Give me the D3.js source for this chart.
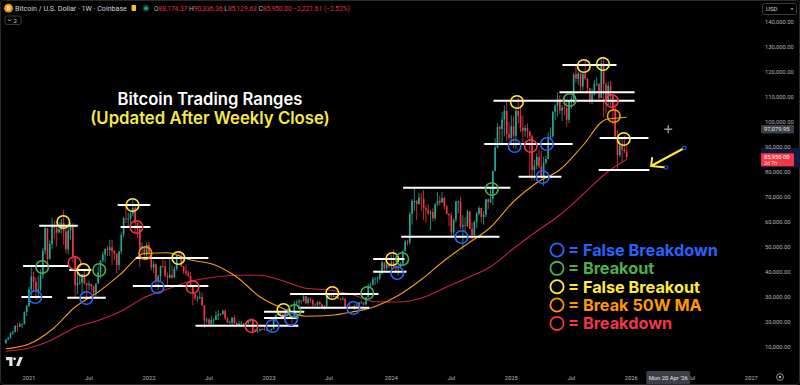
<!DOCTYPE html>
<html>
<head>
<meta charset="utf-8">
<script src="https://cdn.jsdelivr.net/npm/d3@7"></script>
<style>
html, body { margin: 0; padding: 0; background: #000; }
svg { display: block; }
</style>
</head>
<body>
<div id="chart"></div>
<script>
// weekly BTC/USD candles (thousands of USD), first candle = week of 2020-10-19
const firstWeek = "2020-10-19";
const firstOpen = 11.5;

const closes = [
  13.0,13.8,15.5,16.0,18.4,18.2,19.0,19.2,24.0,26.5,33.0,
  38.2,36.0,32.3,33.1,38.8,48.6,57.5,45.2,51.2,59.0,57.5,55.8,57.1,59.8,56.2,49.1,56.6,58.2,46.4,34.7,
  35.7,35.8,39.1,35.5,34.7,35.3,34.2,31.8,35.4,39.8,44.6,47.0,49.3,48.8,49.9,48.3,47.3,42.8,48.2,54.9,
  61.5,61.3,61.3,63.3,65.5,59.7,57.2,49.4,50.1,46.7,50.8,47.3,
  41.8,43.1,36.3,38.2,42.4,42.2,38.4,37.7,38.8,37.8,41.3,46.8,46.4,42.2,40.4,39.5,38.5,34.3,31.3,29.4,
  29.4,29.9,26.6,20.6,21.0,19.3,20.8,20.8,22.6,23.3,23.2,24.4,21.5,19.8,19.8,21.8,19.4,18.8,19.3,19.4,
  19.2,19.6,20.6,21.1,16.3,16.3,16.5,17.1,17.1,16.8,16.8,16.6,
  17.1,20.9,22.7,23.7,23.3,21.8,24.6,23.5,22.2,22.1,27.5,27.9,28.5,28.3,30.3,27.6,29.3,28.9,26.9,26.8,
  28.1,27.1,25.9,26.3,30.5,30.6,30.2,30.3,29.9,29.3,29.1,29.3,26.1,26.1,25.9,25.8,26.5,26.3,27.9,27.9,
  26.9,29.9,34.5,35.0,37.1,37.4,37.5,39.5,43.8,41.4,43.0,42.3,
  43.9,41.7,41.6,42.0,43.0,48.3,52.1,51.7,63.1,68.4,68.4,67.2,69.7,69.4,65.7,64.9,63.4,64.0,61.5,67.0,
  68.5,67.8,69.6,66.2,63.2,62.7,55.8,60.8,68.2,68.2,58.1,58.7,58.4,64.2,57.3,54.8,60.0,63.3,65.6,62.0,
  62.9,69.0,68.0,69.3,80.4,89.8,98.0,97.2,101.0,104.5,95.2,93.7,98.3,
  94.5,104.5,102.6,97.7,96.5,97.6,96.3,94.3,80.7,82.6,86.0,82.3,78.3,83.7,85.2,94.0,94.3,104.1,106.5,109.0,
  104.6,105.7,105.6,100.9,108.4,109.2,119.1,117.3,119.4,114.2,119.3,117.4,113.5,108.2,111.1,115.3,115.3,109.6,123.5,115.1,
  108.6,114.5,110.6,104.7,94.2,86.8,90.4,89.0,88.2,85.95
];

const highs = [
  13.2,14.1,15.9,16.5,18.8,19.5,19.9,19.4,24.3,26.8,34.0,
  41.9,40.1,37.8,38.5,40.9,49.7,58.3,57.5,52.6,61.7,60.6,58.6,60.1,61.2,64.8,57.5,58.4,59.6,59.5,46.6,
  40.9,39.5,39.3,41.3,35.7,36.6,35.1,34.7,35.4,42.6,44.7,48.1,49.3,50.5,52.9,52.9,48.8,47.4,48.4,56.1,
  62.0,67.0,63.7,64.2,69.0,66.3,59.3,59.1,51.9,50.0,51.9,52.1,
  47.5,44.4,43.5,38.9,42.6,45.8,44.6,39.8,45.4,42.6,42.3,47.0,48.2,47.5,42.4,42.9,40.7,40.0,34.3,31.3,
  30.6,32.4,31.7,26.8,21.9,21.5,22.5,21.6,24.3,24.7,23.6,25.2,25.2,21.9,20.6,21.8,22.8,19.9,20.4,20.5,
  19.6,19.7,21.0,21.5,21.5,17.2,16.8,17.4,17.4,18.4,17.0,16.9,
  17.4,21.3,23.3,23.8,24.2,23.4,25.3,25.2,23.9,22.6,28.5,28.8,29.2,28.8,31.0,30.4,30.0,29.8,28.9,27.6,
  28.3,28.4,27.4,26.8,31.4,31.0,31.4,31.8,30.4,29.9,29.7,30.2,29.7,26.8,28.1,26.4,27.0,27.5,28.0,28.6,
  28.0,30.2,35.3,35.9,38.0,37.9,38.4,40.0,44.7,44.0,44.3,43.6,
  47.0,49.0,43.2,42.8,43.9,48.6,52.8,52.9,64.0,69.2,73.8,68.9,71.7,71.4,72.8,66.9,67.2,64.7,65.5,67.6,
  71.9,70.6,72.0,70.2,66.9,63.4,63.8,61.4,68.4,68.5,70.0,62.7,61.8,65.0,64.5,59.8,60.6,64.1,66.5,65.6,
  64.4,69.4,69.5,73.6,80.5,93.5,99.6,98.7,104.0,106.6,108.4,99.9,102.7,
  102.3,106.3,109.6,106.5,102.5,98.8,99.5,96.5,95.0,84.9,87.5,88.8,88.5,86.1,86.5,95.8,97.9,104.3,107.1,111.9,
  110.7,106.8,110.5,108.9,108.5,110.5,119.5,123.2,120.2,119.8,119.4,124.5,117.6,113.5,113.4,116.8,117.9,115.4,125.9,126.2,
  115.9,116.0,116.4,110.8,107.5,96.6,93.1,94.2,94.6,90.34
];

const lows = [
  11.4,12.8,13.2,14.8,15.8,16.2,18.0,17.6,19.0,22.4,26.0,
  30.0,32.4,28.8,29.3,32.3,37.4,47.1,43.0,45.0,49.3,53.3,50.3,55.4,55.5,51.0,47.5,47.0,53.0,43.8,30.0,
  31.1,34.9,31.0,34.8,28.8,32.7,32.1,31.0,29.3,35.3,37.5,43.8,43.9,46.4,46.5,42.8,44.8,39.6,40.8,47.1,
  53.9,59.5,58.0,59.4,62.3,55.7,53.5,42.0,46.9,45.6,45.6,45.7,
  40.6,39.6,34.0,32.9,36.3,41.7,38.0,34.3,37.5,37.2,37.6,40.6,45.2,42.1,39.2,38.5,37.7,33.7,26.7,28.7,
  28.0,29.3,26.5,17.6,19.6,18.6,19.0,18.9,20.8,20.7,22.4,22.7,20.8,19.5,19.5,18.5,19.3,18.1,18.5,19.2,
  18.2,18.9,19.3,20.0,15.6,16.2,15.5,16.2,16.7,16.6,16.4,16.5,
  16.5,17.1,20.4,22.3,22.5,21.4,21.5,23.1,21.9,19.5,22.0,26.6,26.5,27.2,28.2,27.1,26.9,27.7,25.8,26.4,
  25.9,26.6,25.4,24.8,26.3,29.5,29.7,30.0,29.6,28.9,28.6,28.7,25.2,25.8,25.4,25.4,24.9,26.1,26.0,27.2,
  26.6,26.9,29.8,33.9,34.5,34.8,35.6,36.8,39.0,40.2,40.6,41.5,
  40.8,41.5,40.3,38.5,41.8,42.3,48.3,50.6,50.9,59.0,64.6,60.8,66.9,64.5,60.7,59.7,62.8,56.6,60.2,60.7,
  66.3,66.6,67.6,65.1,63.0,58.4,53.5,54.3,59.8,63.5,57.2,49.0,56.2,57.9,57.2,52.6,54.6,57.5,62.7,59.9,
  58.9,62.0,65.1,67.5,66.8,80.2,89.4,90.8,90.5,94.3,92.2,92.6,91.4,
  89.3,89.3,99.5,96.0,91.2,94.1,93.4,78.2,76.6,76.6,81.2,81.6,77.2,74.4,83.1,85.1,92.8,93.4,100.8,102.1,
  103.1,100.4,102.6,98.2,99.6,105.1,107.5,115.7,114.7,112.0,112.7,116.8,111.7,107.3,107.2,110.6,114.4,108.6,109.4,102.0,
  103.5,106.7,106.3,98.9,93.0,80.6,85.9,83.8,87.6,85.13
];

// moving averages, one value every 10th candle (+ last candle)
const maStep = 10;
const ma50 = [9.3,11.2,17.0,26.0,32.0,39.4,47.4,47.7,44.8,43.0,38.0,30.1,25.4,22.3,
              22.6,24.0,26.2,30.6,37.0,44.6,51.3,57.9,68.2,75.7,80.9,90.6,101.0,101.9];
const ma100 = [8.3,9.6,12.9,17.8,20.6,24.4,29.8,33.2,36.3,37.9,38.7,38.7,36.5,33.5,
               32.8,31.0,28.1,28.0,29.6,33.6,37.7,42.1,49.4,56.3,62.8,71.0,79.5,85.1];

const priceTicks = [10,20,30,40,50,60,70,80,90,100,110,120,130,140];

// trading range levels: [from, to, price k]
const levels = [
  ["2020-12-05","2021-03-08",30.0],
  ["2020-12-10","2021-04-26",42.4],
  ["2021-04-29","2021-07-05",40.8],
  ["2021-01-28","2021-05-25",58.5],
  ["2021-04-23","2021-08-18",29.7],
  ["2021-09-23","2021-12-31",66.8],
  ["2021-10-02","2021-12-31",58.0],
  ["2021-11-17","2022-06-25",45.6],
  ["2021-11-08","2022-06-25",34.4],
  ["2022-05-17","2023-03-25",18.5],
  ["2022-12-11","2023-04-12",24.1],
  ["2022-12-11","2023-03-25",21.6],
  ["2023-02-28","2023-11-23",31.2],
  ["2023-03-25","2023-10-26",25.7],
  ["2023-11-07","2024-02-10",45.2],
  ["2023-11-07","2024-02-16",40.1],
  ["2024-02-06","2024-12-27",73.7],
  ["2024-01-31","2024-11-24",54.1],
  ["2025-01-21","2025-05-31",78.1],
  ["2024-10-09","2025-07-04",91.2],
  ["2024-11-06","2026-01-08",108.5],
  ["2025-05-25","2026-01-08",111.9],
  ["2025-06-03","2025-11-14",122.8],
  ["2025-09-24","2026-02-19",93.6],
  ["2025-09-21","2026-02-22",80.8]
];

// signals: [date, price k, type]
const signals = [
  ["2021-01-16",30.0,"b"],["2021-02-06",42.0,"g"],["2021-04-11",60.0,"y"],["2021-05-15",43.6,"r"],
  ["2021-06-11",40.8,"y"],["2021-06-20",29.6,"b"],["2021-07-29",40.8,"g"],["2021-11-07",66.8,"y"],
  ["2021-11-19",58.0,"r"],["2021-12-16",47.6,"o"],["2022-01-22",34.0,"b"],["2022-03-26",45.6,"y"],
  ["2022-05-08",34.0,"r"],["2022-11-03",18.4,"r"],["2023-01-06",18.4,"b"],["2023-02-08",24.8,"y"],
  ["2023-03-03",21.2,"b"],["2023-03-13",24.4,"g"],["2023-07-06",31.6,"y"],["2023-09-08",25.6,"b"],
  ["2023-10-20",31.6,"g"],["2024-01-04",45.2,"y"],["2024-01-19",39.6,"b"],["2024-02-03",45.2,"g"],
  ["2024-08-01",54.0,"b"],["2024-11-01",73.2,"g"],["2025-01-09",90.4,"b"],["2025-01-16",108.0,"y"],
  ["2025-02-27",90.4,"r"],["2025-04-04",78.0,"b"],["2025-04-17",91.2,"b"],["2025-06-25",108.8,"g"],
  ["2025-08-07",122.4,"y"],["2025-10-04",123.2,"y"],["2025-10-31",108.4,"r"],["2025-11-06",102.4,"o"],
  ["2025-12-06",93.2,"y"]
];

const legendKeys = ["b","g","y","o","r"];
const legendLabels = ["= False Breakdown","= Breakout","= False Breakout","= Break 50W MA","= Breakdown"];

const lastPrice = 85.95;
const crosshair = ["2026-04-20", 97.07995];
const arrowPts = [["2026-06-08",89.6],["2026-02-27",82.4]];
const arrowWings = [["2026-03-02",85.6],["2026-04-14",81.8]];

const colors = {b: "#2962ff", g: "#4caf50", y: "#ffeb3b", o: "#ff9800", r: "#f23645"};
const upCol = "#22ab94", downCol = "#f23645";

const W = 800, H = 385;
const parse = d3.utcParse("%Y-%m-%d");

const x = d3.scaleUtc()
    .domain([parse("2020-12-28"), parse("2026-12-28")])
    .range([29, 29 + 313 * 120 / 52]);
const y = d3.scaleLinear().domain([0, 140]).range([372, 22]);

const svg = d3.select("#chart").append("svg").attr("width", W).attr("height", H);
svg.append("rect").attr("width", W).attr("height", H).attr("fill", "#000");
svg.append("rect").attr("x", 0.5).attr("y", 0.5).attr("width", W - 1).attr("height", H - 1)
    .attr("rx", 3).attr("fill", "none").attr("stroke", "#2a2a2a");

function fit(sel, target) {
    const len = sel.node().getComputedTextLength();
    sel.attr("font-size", +sel.attr("font-size") * target / len);
    return sel;
}

const start = parse(firstWeek);
const candles = closes.map((c, i) => ({
    date: d3.utcDay.offset(start, 7 * i),
    open: i === 0 ? firstOpen : closes[i - 1],
    high: highs[i],
    low: lows[i],
    close: c
}));

// candles
const gCandles = svg.append("g");
gCandles.selectAll("line").data(candles).enter().append("line")
    .attr("x1", d => x(d.date)).attr("x2", d => x(d.date))
    .attr("y1", d => y(d.high)).attr("y2", d => y(d.low))
    .attr("stroke", d => d.close >= d.open ? upCol : downCol)
    .attr("stroke-width", 0.8);
gCandles.selectAll("rect").data(candles).enter().append("rect")
    .attr("x", d => x(d.date) - 0.8).attr("width", 1.6)
    .attr("y", d => y(Math.max(d.open, d.close)))
    .attr("height", d => Math.max(0.8, Math.abs(y(d.open) - y(d.close))))
    .attr("fill", d => d.close >= d.open ? upCol : downCol);

// moving averages
const maIdx = d3.range(0, candles.length, maStep).concat([candles.length - 1]);
const maLine = d3.line()
    .x((d, i) => x(candles[maIdx[i]].date))
    .y(d => y(d))
    .curve(d3.curveMonotoneX);
svg.append("path").attr("d", maLine(ma100)).attr("fill", "none")
    .attr("stroke", "#c8233f").attr("stroke-width", 1.1);
svg.append("path").attr("d", maLine(ma50)).attr("fill", "none")
    .attr("stroke", "#f39c12").attr("stroke-width", 1.1);

// range levels
svg.append("g").selectAll("line").data(levels).enter().append("line")
    .attr("x1", d => x(parse(d[0]))).attr("x2", d => x(parse(d[1])))
    .attr("y1", d => y(d[2])).attr("y2", d => y(d[2]))
    .attr("stroke", "#fff").attr("stroke-width", 2);

// signal circles
svg.append("g").selectAll("circle").data(signals).enter().append("circle")
    .attr("cx", d => x(parse(d[0]))).attr("cy", d => y(d[1])).attr("r", 6.3)
    .attr("fill", "none").attr("stroke", d => colors[d[2]]).attr("stroke-width", 1.6);

// title
fit(svg.append("text").attr("x", 210).attr("y", 105).attr("text-anchor", "middle")
    .attr("font-family", "Inter, 'Noto Sans', sans-serif").attr("font-weight", 600)
    .attr("font-size", 16).attr("fill", "#fff").text("Bitcoin Trading Ranges"), 185);
fit(svg.append("text").attr("x", 210).attr("y", 124).attr("text-anchor", "middle")
    .attr("font-family", "Inter, 'Noto Sans', sans-serif").attr("font-weight", 600)
    .attr("font-size", 16).attr("fill", "#f5e84a").text("(Updated After Weekly Close)"), 240);

// legend
const legend = svg.append("g").attr("transform", "translate(557,250)");
let legendSize = 16;
legendLabels.forEach((label, i) => {
    legend.append("circle").attr("cx", 0).attr("cy", i * 18.35).attr("r", 6.6)
        .attr("fill", "none").attr("stroke", colors[legendKeys[i]]).attr("stroke-width", 1.8);
    const t = legend.append("text").attr("x", 11).attr("y", i * 18.35).attr("dy", "0.36em")
        .attr("font-family", "Inter, 'Noto Sans', sans-serif").attr("font-weight", 700)
        .attr("font-size", legendSize).attr("fill", colors[legendKeys[i]]).text(label);
    if (i === 0) { fit(t, 150); legendSize = +t.attr("font-size"); }
});

// arrow annotation
const ax0 = x(parse(arrowPts[0][0])), ay0 = y(arrowPts[0][1]);
const ax1 = x(parse(arrowPts[1][0])), ay1 = y(arrowPts[1][1]);
svg.append("path")
    .attr("d", `M${ax0},${ay0} L${ax1},${ay1} M${x(parse(arrowWings[0][0]))},${y(arrowWings[0][1])} L${ax1},${ay1} L${x(parse(arrowWings[1][0]))},${y(arrowWings[1][1])}`)
    .attr("fill", "none").attr("stroke", "#ffeb3b").attr("stroke-width", 2)
    .attr("stroke-linecap", "round").attr("stroke-linejoin", "round");
[[arrowPts[0][0], arrowPts[0][1]], arrowWings[1]].forEach(p => {
    svg.append("rect").attr("x", x(parse(p[0])) - 1.5).attr("y", y(p[1]) - 1.5)
        .attr("width", 3).attr("height", 3).attr("fill", "#000").attr("stroke", "#2962ff").attr("stroke-width", 0.8);
});

// crosshair marker
const cx = x(parse(crosshair[0])), cy = y(crosshair[1]);
svg.append("path").attr("d", `M${cx - 4},${cy} H${cx + 4} M${cx},${cy - 4} V${cy + 4}`)
    .attr("stroke", "#9598a1").attr("stroke-width", 1.4);

// price axis
const yAxisG = svg.append("g");
yAxisG.append("rect").attr("x", 761).attr("y", y(arrowPts[0][1])).attr("width", 39)
    .attr("height", y(arrowWings[1][1]) - y(arrowPts[0][1])).attr("fill", "#0d1a3a");
yAxisG.selectAll("text.tick").data(priceTicks).enter().append("text")
    .attr("class", "tick").attr("x", 765).attr("y", d => y(d)).attr("dy", "0.35em")
    .attr("font-family", "Roboto, sans-serif").attr("font-size", 5.8).attr("fill", "#b2b5be")
    .text(d => d3.format(",.2f")(d * 1000));

yAxisG.append("rect").attr("x", 761).attr("y", cy - 4.2).attr("width", 33).attr("height", 8.4)
    .attr("rx", 1).attr("fill", "#3b3f4a");
yAxisG.append("text").attr("x", 764).attr("y", cy).attr("dy", "0.35em")
    .attr("font-family", "Roboto, sans-serif").attr("font-size", 5.8).attr("fill", "#e6e6e6")
    .text(d3.format(",.2f")(crosshair[1] * 1000));

const py = y(lastPrice);
yAxisG.append("rect").attr("x", 761).attr("y", py - 3.8).attr("width", 33).attr("height", 13)
    .attr("rx", 1).attr("fill", "#f23645");
yAxisG.append("text").attr("x", 764).attr("y", py).attr("dy", "0.35em")
    .attr("font-family", "Roboto, sans-serif").attr("font-size", 5.8).attr("fill", "#fff")
    .text(d3.format(",.2f")(lastPrice * 1000));
yAxisG.append("text").attr("x", 764).attr("y", py + 6).attr("dy", "0.35em")
    .attr("font-family", "Roboto, sans-serif").attr("font-size", 5.3).attr("fill", "#ffd6da")
    .text("3d 7h");

// time axis
const timeTicks = d3.utcMonth.every(6).range(parse("2021-01-01"), parse("2027-01-02"));
svg.append("g").selectAll("text").data(timeTicks).enter().append("text")
    .attr("x", d => x(d3.utcMonday.floor(d))).attr("y", 379.5).attr("text-anchor", "middle")
    .attr("font-family", "Roboto, sans-serif").attr("font-size", 5.8).attr("fill", "#b2b5be")
    .text(d => d.getUTCMonth() === 0 ? d.getUTCFullYear() : "Jul");

svg.append("rect").attr("x", cx - 22).attr("y", 371).attr("width", 44).attr("height", 13)
    .attr("rx", 1.5).attr("fill", "#3b3f4a");
svg.append("text").attr("x", cx).attr("y", 377.5).attr("dy", "0.35em").attr("text-anchor", "middle")
    .attr("font-family", "Roboto, sans-serif").attr("font-size", 5.8).attr("fill", "#e6e6e6")
    .text(d3.utcFormat("%a %d %b '%y")(parse(crosshair[0])));

svg.append("circle").attr("cx", 780).attr("cy", 377).attr("r", 3.4)
    .attr("fill", "none").attr("stroke", "#b2b5be").attr("stroke-width", 0.8);
svg.append("circle").attr("cx", 780).attr("cy", 377).attr("r", 1.2).attr("fill", "#b2b5be");

// header
svg.append("circle").attr("cx", 8.5).attr("cy", 8.2).attr("r", 4.4).attr("fill", "#f7931a");
svg.append("text").attr("x", 8.5).attr("y", 8.2).attr("dy", "0.35em").attr("text-anchor", "middle")
    .attr("font-family", "Roboto, sans-serif").attr("font-weight", 700).attr("font-size", 5.5)
    .attr("fill", "#fff").text("B");
fit(svg.append("text").attr("x", 15).attr("y", 10.8)
    .attr("font-family", "Roboto, sans-serif").attr("font-size", 7).attr("fill", "#d1d4dc")
    .text("Bitcoin / U.S. Dollar · 1W · Coinbase"), 112);
svg.append("rect").attr("x", 131.5).attr("y", 5).attr("width", 4.5).attr("height", 6)
    .attr("rx", 0.8).attr("fill", "#f5c518");
svg.append("circle").attr("cx", 146).attr("cy", 8.2).attr("r", 3.4).attr("fill", "#0b3b30");
svg.append("circle").attr("cx", 146).attr("cy", 8.2).attr("r", 1.7).attr("fill", "#22ab94");

const ohlc = svg.append("text").attr("x", 154).attr("y", 10.8)
    .attr("font-family", "Roboto, sans-serif").attr("font-size", 7);
[["O", "88,174.37"], [" H", "90,336.36"], [" L", "85,129.63"], [" C", "85,950.00"], [" ", "−2,221.61 (−2.52%)"]]
    .forEach(p => {
        ohlc.append("tspan").attr("fill", "#b2b5be").text(p[0]);
        ohlc.append("tspan").attr("fill", "#e0313f").text(p[1]);
    });
fit(ohlc, 196);

svg.append("rect").attr("x", 5).attr("y", 16).attr("width", 16).attr("height", 8.5)
    .attr("rx", 2).attr("fill", "none").attr("stroke", "#4a4a4a").attr("stroke-width", 0.8);
svg.append("path").attr("d", "M8,19.3 L9.6,21 L11.2,19.3").attr("fill", "none")
    .attr("stroke", "#d1d4dc").attr("stroke-width", 0.8);
svg.append("text").attr("x", 13.5).attr("y", 22.6).attr("font-family", "Roboto, sans-serif")
    .attr("font-size", 6.2).attr("fill", "#d1d4dc").text("2");

svg.append("rect").attr("x", 762.5).attr("y", 3.5).attr("width", 34).attr("height", 11)
    .attr("rx", 2).attr("fill", "none").attr("stroke", "#4a4a4a").attr("stroke-width", 0.8);
svg.append("text").attr("x", 766).attr("y", 11.4).attr("font-family", "Roboto, sans-serif")
    .attr("font-size", 6).attr("fill", "#d1d4dc").text("USD");
svg.append("path").attr("d", "M790.5,8.3 L793.5,8.3 L792,10 Z").attr("fill", "#b2b5be");

// TradingView logo
svg.append("path")
    .attr("d", "M6,357 H12.5 V366 H9.3 V360.2 H6 Z M16,366 L19.5,357 H22.8 L19.3,366 Z")
    .attr("fill", "#e6e6e6");
svg.append("circle").attr("cx", 14.6).attr("cy", 358.8).attr("r", 1.4).attr("fill", "#e6e6e6");
</script>
</body>
</html>
